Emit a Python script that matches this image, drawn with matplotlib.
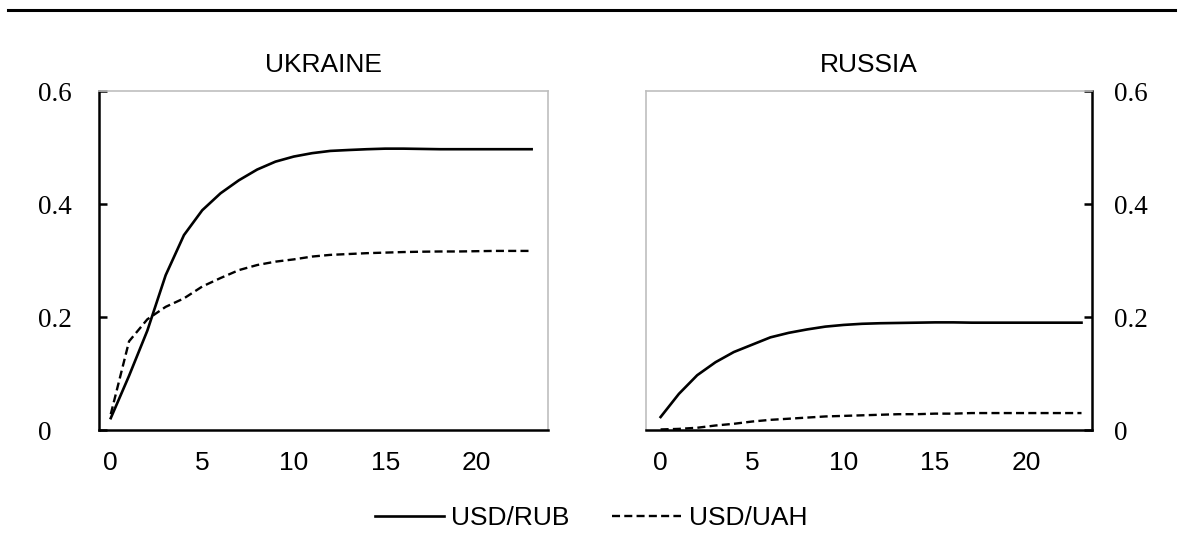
#!/usr/bin/env python3
"""Impulse responses: UKRAINE / RUSSIA panels, USD/RUB vs USD/UAH."""

import matplotlib
matplotlib.use("Agg")
import matplotlib.pyplot as plt
from matplotlib.lines import Line2D
import numpy as np


HORIZON = np.arange(24)

UKR_RUB = [0.021, 0.096, 0.176, 0.274, 0.345, 0.389, 0.419, 0.442, 0.461, 0.475,
           0.484, 0.490, 0.494, 0.4956, 0.497, 0.498, 0.498, 0.4975, 0.497, 0.497,
           0.497, 0.497, 0.497, 0.497]
UKR_UAH = [0.028, 0.157, 0.196, 0.218, 0.233, 0.254, 0.269, 0.283, 0.292, 0.298,
           0.302, 0.307, 0.310, 0.3115, 0.313, 0.314, 0.3150, 0.3156, 0.316, 0.316,
           0.3165, 0.317, 0.317, 0.317]
RUS_RUB = [0.023, 0.064, 0.097, 0.120, 0.138, 0.151, 0.164, 0.172, 0.178, 0.183,
           0.186, 0.188, 0.189, 0.1895, 0.190, 0.1905, 0.1905, 0.190, 0.190, 0.190,
           0.190, 0.190, 0.190, 0.190]
RUS_UAH = [0.001, 0.002, 0.004, 0.008, 0.011, 0.015, 0.018, 0.020, 0.022, 0.024,
           0.025, 0.026, 0.027, 0.028, 0.028, 0.029, 0.029, 0.030, 0.030, 0.030,
           0.030, 0.030, 0.030, 0.030]

Y_TICKS = [0, 0.2, 0.4, 0.6]
Y_LABELS = ["0", "0.2", "0.4", "0.6"]
X_TICKS = [0, 5, 10, 15, 20]

SANS = "Liberation Sans"
SERIF = "Liberation Serif"
GREY = "#bfbfbf"
DASH = (0, (3.4, 1.8))


def style_panel(ax, side: str) -> None:
    other = "right" if side == "left" else "left"
    for name in ("bottom", side):
        ax.spines[name].set_color("black")
        ax.spines[name].set_linewidth(1.8)
    for name in ("top", other):
        ax.spines[name].set_color(GREY)
        ax.spines[name].set_linewidth(1.2)

    ax.set_ylim(0, 0.6)
    ax.set_yticks(Y_TICKS, Y_LABELS)
    ax.set_xticks(X_TICKS)

    if side == "left":
        ax.yaxis.tick_left()
        ax.tick_params(axis="y", direction="in", length=6, width=1.8, pad=44)
    else:
        ax.yaxis.tick_right()
        ax.tick_params(axis="y", direction="in", length=6, width=1.8, pad=16)
    for lab in ax.get_yticklabels():
        lab.set_fontfamily(SERIF)
        lab.set_fontsize(19.5)
        lab.set_horizontalalignment("left")

    ax.tick_params(axis="x", length=0, pad=15)
    for lab in ax.get_xticklabels():
        lab.set_fontfamily(SANS)
        lab.set_fontsize(19)


fig = plt.figure(figsize=(11.82, 5.54), dpi=100)

ax_u = fig.add_axes([0.0838, 0.2238, 0.3799, 0.6119])
ax_r = fig.add_axes([0.5465, 0.2238, 0.3773, 0.6119])

ax_u.plot(HORIZON, UKR_RUB, color="black", linewidth=1.9, label="USD/RUB")
ax_u.plot(HORIZON, UKR_UAH, color="black", linewidth=1.7, linestyle=DASH, label="USD/UAH")
ax_u.set_xlim(-0.64, 23.9)
style_panel(ax_u, "left")
ax_u.set_title("UKRAINE", fontfamily=SANS, fontsize=19, pad=14)

ax_r.plot(HORIZON, RUS_RUB, color="black", linewidth=1.9)
ax_r.plot(HORIZON, RUS_UAH, color="black", linewidth=1.7, linestyle=DASH)
ax_r.set_xlim(-0.8, 23.57)
style_panel(ax_r, "right")
ax_r.set_title("RUSSIA", fontfamily=SANS, fontsize=19, pad=14)

# horizontal rule across the top of the figure
fig.add_artist(Line2D([0.007, 0.994], [0.982, 0.982], transform=fig.transFigure,
                      color="black", linewidth=2.2))

handles, labels = ax_u.get_legend_handles_labels()
fig.legend(handles, labels, loc="center", bbox_to_anchor=(0.5, 0.065), ncol=2,
           frameon=False, prop={"family": SANS, "size": 19},
           handlelength=2.6, handletextpad=0.3, columnspacing=1.6)

fig.savefig("out.png", dpi=100)
